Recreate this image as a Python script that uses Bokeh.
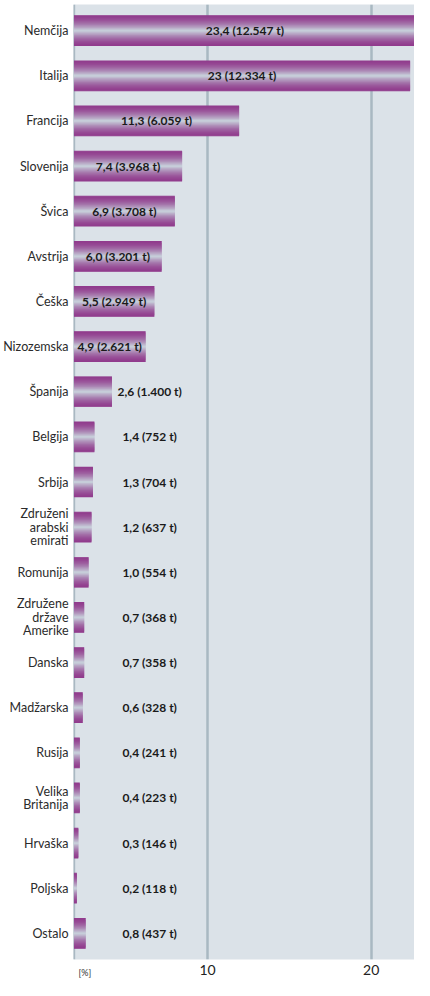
from bokeh.plotting import figure
from bokeh.models import (ColumnDataSource, FactorRange, Range1d, LinearAxis,
                          FixedTicker, Grid, Span)
from bokeh.transform import dodge
from bokeh.core.properties import value
from bokeh.embed import file_html
from bokeh.resources import INLINE

# ---- data (top to bottom) ----
countries = ["Nemčija", "Italija", "Francija", "Slovenija", "Švica", "Avstrija",
             "Češka", "Nizozemska", "Španija", "Belgija", "Srbija",
             "Združeni\narabski\nemirati", "Romunija", "Združene\ndržave\nAmerike",
             "Danska", "Madžarska", "Rusija", "Velika\nBritanija", "Hrvaška",
             "Poljska", "Ostalo"]
share_pct = [23.4, 23.0, 11.3, 7.4, 6.9, 6.0, 5.5, 4.9, 2.6, 1.4, 1.3,
             1.2, 1.0, 0.7, 0.7, 0.6, 0.4, 0.4, 0.3, 0.2, 0.8]
share_text = ["23,4", "23", "11,3", "7,4", "6,9", "6,0", "5,5", "4,9", "2,6", "1,4", "1,3",
              "1,2", "1,0", "0,7", "0,7", "0,6", "0,4", "0,4", "0,3", "0,2", "0,8"]
tonnes = [12547, 12334, 6059, 3968, 3708, 3201, 2949, 2621, 1400, 752, 704,
          637, 554, 368, 358, 328, 241, 223, 146, 118, 437]
axis_ticks = [10, 20]
unit_label = "[%]"

labels = [f"{s} ({format(t, ',').replace(',', '.')} t)" for s, t in zip(share_text, tonnes)]
outside_x = 5.18
label_x = [v / 2 if v >= 4 else outside_x for v in share_pct]

src = ColumnDataSource(dict(cat=countries, val=share_pct, lab=labels, lx=label_x))

FONT = "Lato"
p = figure(width=414, height=980, output_backend="svg", toolbar_location=None,
           y_range=FactorRange(factors=list(reversed(countries)),
                               range_padding=0.0076),
           x_range=Range1d(-0.03, 23.3),
           x_axis_location=None,
           min_border_left=68, min_border_right=0, min_border_top=4,
           min_border_bottom=0)
p.background_fill_color = "#dbe2e8"
p.border_fill_color = "white"
p.outline_line_color = None
p.xgrid.visible = False
p.ygrid.visible = False


def bare_axis(ax):
    ax.axis_line_color = None
    ax.major_tick_line_color = None
    ax.minor_tick_line_color = None
    ax.major_tick_out = 0
    ax.major_tick_in = 0
    ax.minor_tick_out = 0
    ax.minor_tick_in = 0
    ax.major_label_text_font = FONT


# secondary range for the scale shown on the axis
p.extra_x_ranges = {"axis": Range1d(1.807, 22.65)}
xaxis = LinearAxis(x_range_name="axis", ticker=FixedTicker(ticks=axis_ticks))
bare_axis(xaxis)
xaxis.major_label_standoff = 5
xaxis.major_label_text_font_size = "14px"
xaxis.major_label_text_color = "#222222"
p.add_layout(xaxis, "below")

# small unit label under the left end of the scale
unit_tick = 0.75
uaxis = LinearAxis(ticker=FixedTicker(ticks=[unit_tick]),
                   major_label_overrides={unit_tick: unit_label})
bare_axis(uaxis)
uaxis.major_label_standoff = -11
uaxis.major_label_text_font_size = "9px"
uaxis.major_label_text_color = "#333333"
p.add_layout(uaxis, "below")

grid = Grid(dimension=0, ticker=FixedTicker(ticks=axis_ticks), x_range_name="axis",
            grid_line_color="#a9b8c2", grid_line_width=2.5)
p.add_layout(grid)
p.add_layout(Span(location=0, dimension="height", line_color="#a9b8c2",
                  line_width=2.5, level="underlay"))

yaxis = p.yaxis[0]
bare_axis(yaxis)
yaxis.major_label_standoff = 5
yaxis.major_label_text_font_size = "12.5px"
yaxis.major_label_text_color = "#2b2b2b"
yaxis.major_label_text_line_height = 0.9

# gradient bars built from thin horizontal strips
purple = (0x90, 0x3a, 0x8c)
light = (0xc6, 0xcd, 0xd9)
N = 33
bar_h = 0.68
step = bar_h / N
offsets = [-bar_h / 2 + step * (i + 0.5) for i in range(N)]
order = sorted(range(N), key=lambda i: -abs(offsets[i]))
for i in order:
    off = offsets[i]
    t = abs(off) / (bar_h / 2)
    w = (1 - t) ** 1.7
    col = "#%02x%02x%02x" % tuple(int(round(pc + (lc - pc) * w)) for pc, lc in zip(purple, light))
    h = step * 2.0 if abs(off) < bar_h / 2 - step else step
    p.hbar(y=dodge("cat", off, range=p.y_range), left=0, right="val",
           height=h, source=src, fill_color=col, line_color=None)

p.text(x="lx", y="cat", text="lab", source=src, text_align="center",
       text_baseline="middle", text_font=value(FONT), text_font_style="bold",
       text_font_size="12px", text_color="#1a1a1a")

open("out.html", "w").write(file_html(p, INLINE))
